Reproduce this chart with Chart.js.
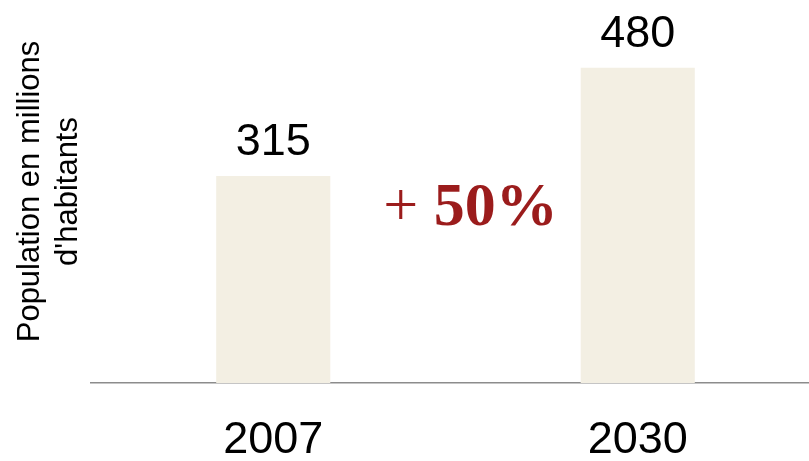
<!DOCTYPE html>
<html>
<head>
<meta charset="utf-8">
<script src="https://cdn.jsdelivr.net/npm/chart.js@4"></script>
<style>
  html, body { margin: 0; padding: 0; background: #fff; overflow: hidden; }
  #wrap { width: 820px; height: 461px; }
</style>
</head>
<body>
<div id="wrap"><canvas id="popChart" width="820" height="461"></canvas></div>
<script>
const annees = ['2007', '2030'];
const population = [315, 480];
const titreAxe = ['Population en millions', "d'habitants"];
const hausse = ['+ ', '50%'];

// valeurs au-dessus des barres + annotation de croissance
const etiquettes = {
  id: 'etiquettes',
  afterDatasetsDraw(chart) {
    const ctx = chart.ctx;
    const bars = chart.getDatasetMeta(0).data;
    ctx.save();
    ctx.fillStyle = '#000';
    ctx.font = '45px "Liberation Sans", Arial, sans-serif';
    ctx.textAlign = 'center';
    ctx.textBaseline = 'alphabetic';
    bars.forEach((b, i) => {
      ctx.fillText(String(population[i]), b.x, b.y - 21);
    });

    // "+ 50%"
    const milieu = (bars[0].x + bars[1].x) / 2 + 15;
    const yBase = chart.scales.y.getPixelForValue(240);
    const serif = '"Liberation Serif", "Times New Roman", serif';
    ctx.fillStyle = '#9b1c1c';
    ctx.textAlign = 'left';
    ctx.font = '62px ' + serif;
    const w1 = ctx.measureText(hausse[0]).width;
    ctx.font = 'bold 62px ' + serif;
    const w2 = ctx.measureText(hausse[1]).width;
    const x = milieu - (w1 + w2) / 2;
    ctx.font = '62px ' + serif;
    ctx.fillText(hausse[0], x, yBase);
    ctx.font = 'bold 62px ' + serif;
    ctx.fillText(hausse[1], x + w1, yBase);
    ctx.restore();
  }
};

const ctx = document.getElementById('popChart').getContext('2d');
new Chart(ctx, {
  type: 'bar',
  data: {
    labels: annees,
    datasets: [{
      data: population,
      backgroundColor: '#f3efe3',
      borderWidth: 0,
      categoryPercentage: 1,
      barPercentage: 0.313
    }]
  },
  options: {
    responsive: false,
    animation: false,
    layout: { padding: 0 },
    plugins: {
      legend: { display: false },
      tooltip: { enabled: false }
    },
    scales: {
      x: {
        grid: { display: false, drawTicks: false },
        border: { display: true, color: '#8c8c8c', width: 1.5 },
        ticks: {
          color: '#000',
          padding: 31,
          font: { family: '"Liberation Sans", Arial, sans-serif', size: 45 }
        },
        afterFit(scale) { scale.height = 78; }
      },
      y: {
        min: 0,
        max: 583,
        grid: { display: false, drawTicks: false },
        border: { display: false },
        ticks: { display: false },
        title: {
          display: true,
          text: titreAxe,
          color: '#000',
          padding: { top: 12, bottom: 0 },
          font: { family: '"Liberation Sans", Arial, sans-serif', size: 31, lineHeight: 1.22 }
        },
        afterFit(scale) { scale.width = 91; }
      }
    }
  },
  plugins: [etiquettes]
});
</script>
</body>
</html>
